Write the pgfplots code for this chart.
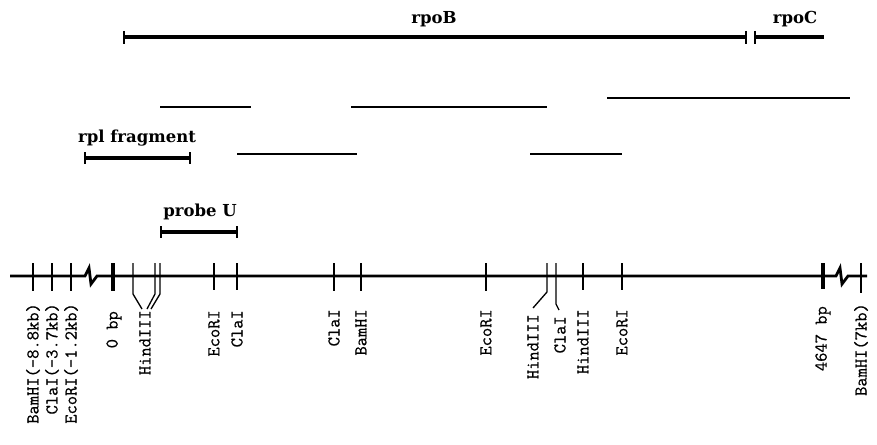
\documentclass[border=0pt]{standalone}
\usepackage{fontspec}
\usepackage{pgfplots}
\pgfplotsset{compat=1.18}
\newfontfamily\titfont{DejaVu Serif}
\newfontfamily\labfont{Latin Modern Mono}[FakeBold=0.6]
\newcommand{\lab}{\labfont\fontsize{18bp}{18bp}\selectfont}
\newcommand{\tit}{\titfont\bfseries\fontsize{16.5bp}{16.5bp}\selectfont}
\tikzset{site/.style={font=\lab, rotate=90, anchor=east, inner sep=0pt}}
\begin{document}
\begin{tikzpicture}
\begin{axis}[
  width=877bp, height=445bp, scale only axis,
  xmin=0, xmax=877, ymin=0, ymax=445, y dir=reverse,
  hide axis, clip=false, unbounded coords=jump,
]
% main line with breaks
\addplot[black, line width=2.8bp, line join=miter] coordinates {
 (10,276) (85,276) (89,268) (91,284) (97,276) (836,276) (840,268) (842,284) (848,276) (867,276)};
% ordinary ticks
\addplot[black, line width=1.6bp] coordinates {
 (33,263) (33,291) (nan,nan)
 (52,263) (52,291) (nan,nan)
 (71,263) (71,291) (nan,nan)
 (214,263) (214,290) (nan,nan)
 (237,263) (237,290) (nan,nan)
 (334,263) (334,291) (nan,nan)
 (361,263) (361,291) (nan,nan)
 (486,263) (486,291) (nan,nan)
 (583,263) (583,290) (nan,nan)
 (622,263) (622,290) (nan,nan)
 (861,263) (861,293)};
% ticks with leaders
\addplot[black, line width=1.3bp] coordinates {
 (133,263) (133,294) (142,309) (nan,nan)
 (155,263) (155,294) (147,309) (nan,nan)
 (160,263) (160,294) (151,309) (nan,nan)
 (547,263) (547,292) (533,308) (nan,nan)
 (556,263) (556,304) (559,310)};
% thick end ticks
\addplot[black, line width=3.2bp] coordinates {
 (113,263) (113,291) (nan,nan)
 (823,263) (823,289)};
% rpoB / rpoC
\addplot[black, line width=3.8bp] coordinates {(124,37) (746,37) (nan,nan) (755,37) (824,37)};
\addplot[black, line width=2.6bp] coordinates {
 (124,31) (124,44) (nan,nan) (746,31) (746,44) (nan,nan) (755,31) (755,44)};
% fragment lines
\addplot[black, line width=2.8bp] coordinates {
 (160,107) (251,107) (nan,nan)
 (351,107) (547,107) (nan,nan)
 (607,98) (850,98) (nan,nan)
 (237,154) (357,154) (nan,nan)
 (530,154) (622,154)};
% rpl fragment and probe U
\addplot[black, line width=3.4bp] coordinates {(85,158) (190,158) (nan,nan) (161,232) (237,232)};
\addplot[black, line width=2.4bp] coordinates {
 (85,152) (85,164) (nan,nan) (190,152) (190,164) (nan,nan)
 (161,226) (161,238) (nan,nan) (237,226) (237,238)};
% titles
\node[font=\tit] at (axis cs:434,19) {rpoB};
\node[font=\tit] at (axis cs:795,19) {rpoC};
\node[font=\tit] at (axis cs:137,138) {rpl fragment};
\node[font=\tit] at (axis cs:200,212) {probe U};
% site labels
\node[site] at (axis cs:33,303) {BamHI(-8.8kb)};
\node[site] at (axis cs:52,303) {ClaI(-3.7kb)};
\node[site] at (axis cs:71,303) {EcoRI(-1.2kb)};
\node[site] at (axis cs:114,311) {0 bp};
\node[site] at (axis cs:145,310) {HindIII};
\node[site] at (axis cs:214,310) {EcoRI};
\node[site] at (axis cs:237,310) {ClaI};
\node[site] at (axis cs:334,309) {ClaI};
\node[site] at (axis cs:361,309) {BamHI};
\node[site] at (axis cs:486,309) {EcoRI};
\node[site] at (axis cs:533,314) {HindIII};
\node[site] at (axis cs:560,316) {ClaI};
\node[site] at (axis cs:583,309) {HindIII};
\node[site] at (axis cs:622,309) {EcoRI};
\node[site] at (axis cs:823,306) {4647 bp};
\node[site] at (axis cs:861,303) {BamHI(7kb)};
\end{axis}
\pgfresetboundingbox
\path (0,0) rectangle (877bp,445bp);
\end{tikzpicture}
\end{document}
